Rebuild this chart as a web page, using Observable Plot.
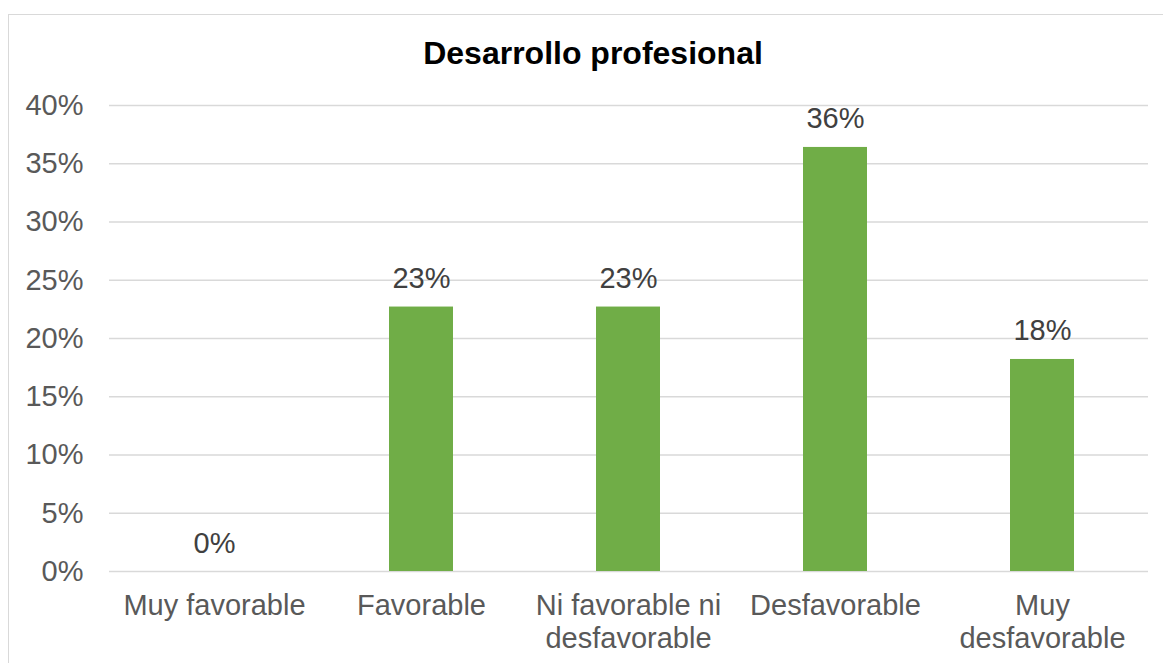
<!DOCTYPE html>
<html>
<head>
<meta charset="utf-8">
<script src="https://cdn.jsdelivr.net/npm/d3@7"></script>
<script src="https://cdn.jsdelivr.net/npm/@observablehq/plot@0.6"></script>
<style>
  html, body { margin: 0; padding: 0; background: #fff; }
  #wrap { position: relative; width: 1163px; height: 663px; overflow: hidden; font-family: "Liberation Sans", Arial, sans-serif; }
  #border { position: absolute; left: 8px; top: 14px; width: 1200px; height: 700px; border: 1.5px solid #d9d9d9; box-sizing: border-box; }
  #title { position: absolute; left: 0; top: 34px; width: 1186px; text-align: center; font-weight: bold; font-size: 32px; color: #000; line-height: 38px; }
  #chart { position: absolute; left: 0; top: 0; }
</style>
</head>
<body>
<div id="wrap">
  <div id="border"></div>
  <div id="chart"></div>
  <div id="title">Desarrollo profesional</div>
</div>
<script>
const categories = ["Muy favorable", "Favorable", "Ni favorable ni desfavorable", "Desfavorable", "Muy desfavorable"];
const tickLabels = ["Muy favorable", "Favorable", "Ni favorable ni\ndesfavorable", "Desfavorable", "Muy\ndesfavorable"];
const values = [0.0, 0.227, 0.227, 0.364, 0.182];
const yTicks = [0, 0.05, 0.10, 0.15, 0.20, 0.25, 0.30, 0.35, 0.40];

const data = categories.map((c, i) => ({category: c, value: values[i]}));
const labelOf = new Map(categories.map((c, i) => [c, tickLabels[i]]));
const pct = d3.format(".0%");

const chart = Plot.plot({
  width: 1163,
  height: 663,
  marginLeft: 109,
  marginRight: 15,
  marginTop: 105,
  marginBottom: 92,
  style: { fontFamily: "'Liberation Sans', Arial, sans-serif", fontSize: "29px", color: "#595959", background: "transparent", overflow: "visible" },
  x: { domain: categories, paddingInner: 0.69, paddingOuter: 0.345, label: null },
  y: { domain: [0, 0.4], label: null },
  marks: [
    Plot.ruleY(yTicks, { stroke: "#d9d9d9", strokeWidth: 1.5 }),
    Plot.barY(data, { x: "category", y: "value", fill: "#70AD47" }),
    Plot.text(data, { x: "category", y: "value", text: d => pct(d.value), lineAnchor: "bottom", dy: -19, fill: "#404040", fontSize: 29 }),
    Plot.axisY({ ticks: yTicks, tickFormat: d => pct(d), tickSize: 0, tickPadding: 26, fontSize: 29, fill: "#595959", label: null }),
    Plot.axisX({ tickFormat: d => labelOf.get(d), tickSize: 0, tickPadding: 20, fontSize: 29, fill: "#595959", lineHeight: 1.14, label: null })
  ]
});
document.getElementById("chart").appendChild(chart);
</script>
</body>
</html>
